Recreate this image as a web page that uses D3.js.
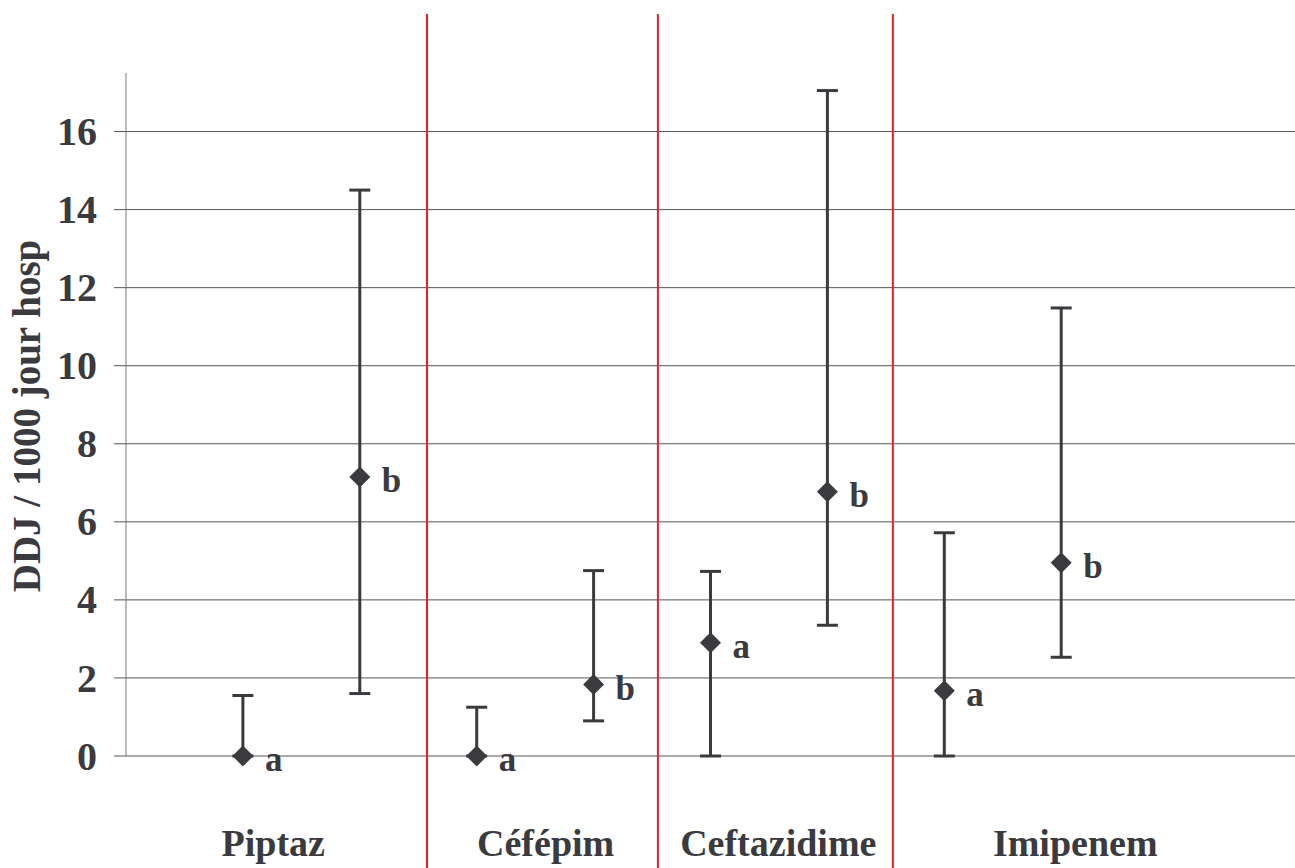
<!DOCTYPE html>
<html>
<head>
    <meta charset="utf-8">
    <script src="https://cdnjs.cloudflare.com/ajax/libs/d3/7.8.5/d3.min.js"></script>
    <style>
        body { margin: 0; background: #fff; }
        text { font-family: "Liberation Serif", "Times New Roman", serif; font-weight: bold; fill: #3a3a3f; }
    </style>
</head>
<body>
    <div id="chart"></div>
    <script>
        // data
        const categories = ["Piptaz", "Céfépim", "Ceftazidime", "Imipenem"];
        const pointPos = [1, 2, 3, 4, 5, 6, 7, 8];
        const means = [0, 7.15, 0, 1.83, 2.9, 6.77, 1.67, 4.95];
        const lows = [0, 1.6, 0, 0.9, 0, 3.35, 0, 2.53];
        const highs = [1.55, 14.5, 1.25, 4.75, 4.73, 17.05, 5.72, 11.48];
        const letters = ["a", "b", "a", "b", "a", "b", "a", "b"];
        const yTicks = [0, 2, 4, 6, 8, 10, 12, 14, 16];
        const separators = [2.575, 4.55, 6.56];
        const labelPos = [1.26, 3.59, 5.58, 8.12];

        const W = 1295, H = 868;
        const margin = { left: 126, right: 0, top: 73, bottom: 112 };
        const ink = "#3a3a3f";

        const svg = d3.select("#chart").append("svg")
            .attr("width", W).attr("height", H);

        const x = d3.scaleLinear().domain([0, 10]).range([margin.left, W - margin.right]);
        const y = d3.scaleLinear().domain([0, 17.5]).range([H - margin.bottom, margin.top]);

        // gridlines
        svg.append("g").selectAll("line")
            .data(yTicks)
            .enter().append("line")
            .attr("x1", margin.left - 12).attr("x2", W)
            .attr("y1", d => y(d)).attr("y2", d => y(d))
            .attr("stroke", "#555").attr("stroke-width", 1);

        // y axis line
        svg.append("line")
            .attr("x1", margin.left).attr("x2", margin.left)
            .attr("y1", y(17.5)).attr("y2", y(0))
            .attr("stroke", "#777").attr("stroke-width", 1);

        // tick labels
        svg.append("g").selectAll("text")
            .data(yTicks)
            .enter().append("text")
            .attr("x", 97).attr("y", d => y(d))
            .attr("dy", "0.34em")
            .attr("text-anchor", "end")
            .style("font-size", "40px")
            .text(d => d);

        // y title
        svg.append("text")
            .attr("transform", "translate(40," + 416 + ") rotate(-90)")
            .attr("text-anchor", "middle")
            .style("font-size", "39px")
            .text("DDJ / 1000 jour hosp");

        // red separators
        svg.append("g").selectAll("line")
            .data(separators)
            .enter().append("line")
            .attr("x1", d => x(d)).attr("x2", d => x(d))
            .attr("y1", 14).attr("y2", H)
            .attr("stroke", "#ee1c25").attr("stroke-width", 2);

        // category labels
        svg.append("g").selectAll("text")
            .data(categories)
            .enter().append("text")
            .attr("x", (d, i) => x(labelPos[i]))
            .attr("y", 856)
            .attr("text-anchor", "middle")
            .style("font-size", "38px")
            .text(d => d);

        // error bars
        const g = svg.append("g");
        pointPos.forEach((p, i) => {
            const cx = x(p);
            g.append("line")
                .attr("x1", cx).attr("x2", cx)
                .attr("y1", y(lows[i])).attr("y2", y(highs[i]))
                .attr("stroke", ink).attr("stroke-width", 3);
            [lows[i], highs[i]].forEach(v => {
                g.append("line")
                    .attr("x1", cx - 10.5).attr("x2", cx + 10.5)
                    .attr("y1", y(v)).attr("y2", y(v))
                    .attr("stroke", ink).attr("stroke-width", 3);
            });
            g.append("path")
                .attr("d", d3.symbol().type(d3.symbolSquare).size(220))
                .attr("transform", "translate(" + cx + "," + y(means[i]) + ") rotate(45)")
                .attr("fill", ink);
            g.append("text")
                .attr("x", cx + 22).attr("y", y(means[i]) + 15)
                .style("font-size", "35px")
                .text(letters[i]);
        });
    </script>
</body>
</html>
